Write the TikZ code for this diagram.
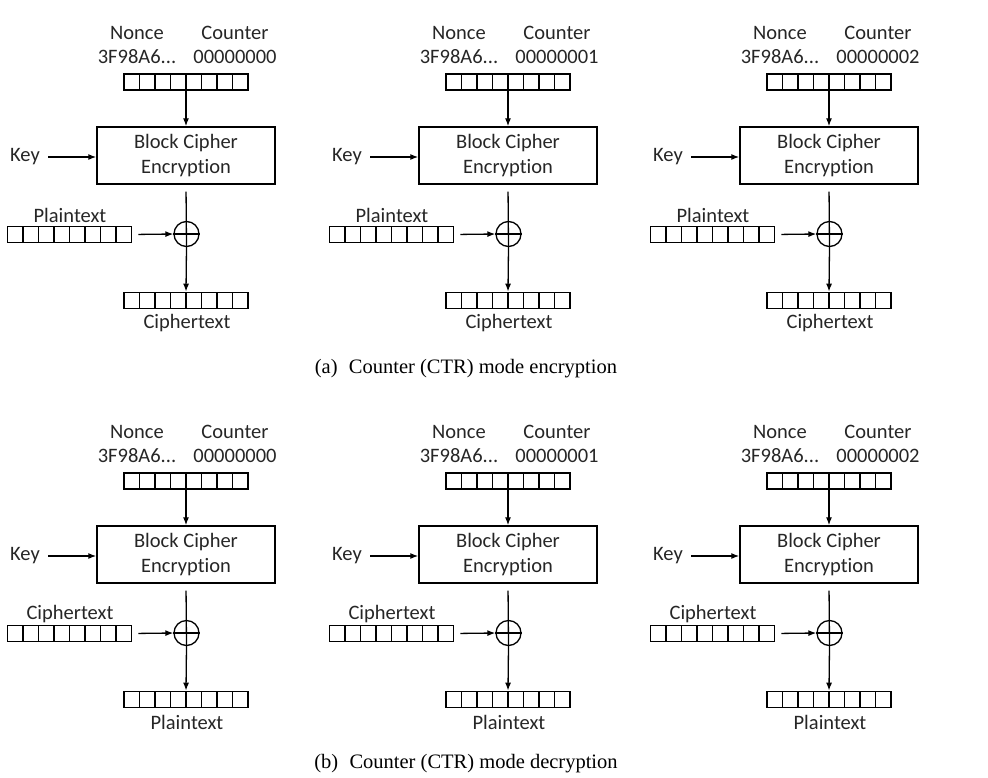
\documentclass[tikz,border=0pt]{standalone}
\usepackage{fontspec}
\setmainfont{Carlito}[Ligatures=NoCommon]
\newfontfamily\capfont{Liberation Serif}
\usetikzlibrary{arrows.meta,calc}
\begin{document}
\begin{tikzpicture}[x=1pt,y=-1pt,
  lbl/.style={font=\fontsize{20.5}{24}\selectfont, text=black!85, inner sep=0pt},
  regbox/.style={draw, line width=1.7pt, minimum width=124pt, minimum height=16pt, inner sep=0pt,
    path picture={\foreach \k in {1,...,7}{\draw[line width=1.7pt]
      ($(path picture bounding box.south west)!\k/8!(path picture bounding box.south east)$) --
      ($(path picture bounding box.north west)!\k/8!(path picture bounding box.north east)$);}}},
  cipherbox/.style={draw, line width=1.4pt, minimum width=178pt, minimum height=57pt, align=center,
    font=\fontsize{20.5}{25}\selectfont, text=black!85},
  xorc/.style={draw, circle, line width=1.3pt, minimum size=25pt, inner sep=0pt},
  arr/.style={-{Latex[length=8pt,width=6pt]}, line width=1.3pt},
  capstyle/.style={font=\capfont\fontsize{20.5}{24}\selectfont, inner sep=0pt},
]
\useasboundingbox (0,0) rectangle (988,777);
\foreach \c/\dx/\cnt in {1/0/00000000,2/322/00000001,3/643/00000002}{
 \foreach \r/\dy/\intext/\outtext in {a/0/Plaintext/Ciphertext,b/399/Ciphertext/Plaintext}{
  \begin{scope}[shift={(\dx,\dy)}]
   \node[lbl] (nl\r\c) at (137,33) {Nonce};
   \node[lbl] (cl\r\c) at (235,33) {Counter};
   \node[lbl] (nv\r\c) at (137,57) {3F98A6...};
   \node[lbl] (cv\r\c) at (235,57) {\cnt};
   \node[regbox] (ctr\r\c) at (186,82) {};
   \node[cipherbox] (blk\r\c) at (186,155.5) {Block Cipher\\Encryption};
   \node[lbl] (key\r\c) at (25,157) {Key};
   \node[xorc] (xor\r\c) at (186.5,234) {};
   \node[lbl] (inl\r\c) at (70,215) {\intext};
   \node[regbox] (inr\r\c) at (69.5,234.5) {};
   \node[regbox] (outr\r\c) at (186,300.5) {};
   \node[lbl] (outl\r\c) at (187,323) {\outtext};
   \draw[arr] (ctr\r\c.south) -- (blk\r\c.north);
   \draw[arr, shorten <=8pt] (key\r\c.east) -- (key\r\c.east -| blk\r\c.west);
   \draw[line width=1.3pt, shorten <=7pt] (blk\r\c.south) -- (xor\r\c.south);
   \draw[line width=1.3pt] (xor\r\c.west) -- (xor\r\c.east);
   \draw[arr, shorten <=6pt] (inr\r\c.east) -- (xor\r\c.west);
   \draw[arr] (xor\r\c.south) -- (outr\r\c.north);
  \end{scope}
 }}
\node[capstyle] (capa) at (466,369) {(a)\hspace{0.55em}Counter (CTR) mode encryption};
\node[capstyle] (capb) at (466,764) {(b)\hspace{0.55em}Counter (CTR) mode decryption};
\end{tikzpicture}
\end{document}
